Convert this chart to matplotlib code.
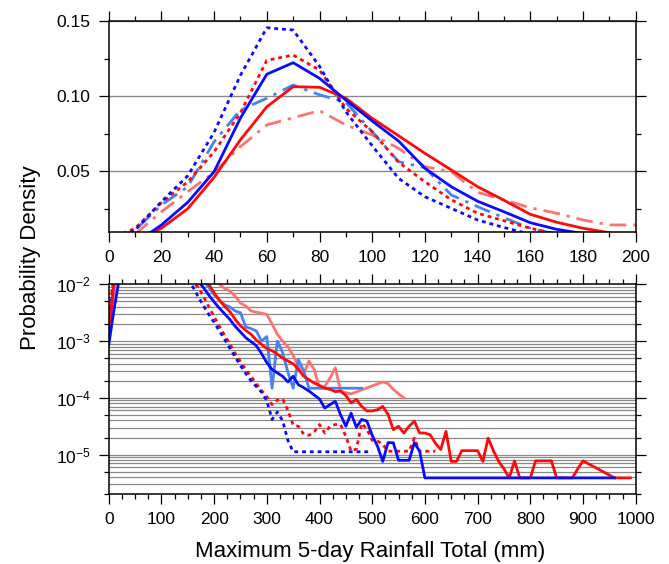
import numpy as np
import matplotlib
matplotlib.use("Agg")
import matplotlib.pyplot as plt
from matplotlib.ticker import MultipleLocator, LogLocator, FixedLocator, NullFormatter, FormatStrFormatter

plt.rcParams['font.family'] = ['Liberation Sans', 'DejaVu Sans']
plt.rcParams['mathtext.default'] = 'regular'

nan = np.nan

# ---- upper panel: pdf on 10 mm bins (linear y) ----
bins_top = np.arange(0, 201, 10)
pdf_blue_solid = [nan, 0.002, 0.0142, 0.0293, 0.0497, 0.0855, 0.1147, 0.1224, 0.112, 0.0975, 0.0835,
                  0.0702, 0.052, 0.0397, 0.030, 0.023, 0.0157, 0.0113, 0.0085, nan, nan]
pdf_blue_dot = [0.003, 0.0107, 0.0297, 0.047, 0.076, 0.114, 0.1457, 0.1442, 0.120, 0.0897, 0.067,
                0.0453, 0.033, 0.0253, 0.0175, 0.0125, 0.008, nan, nan, nan, nan]
pdf_blue_dash = [0.003, 0.0107, 0.0275, 0.0397, 0.0697, 0.0909, 0.0987, 0.1075, 0.101, 0.096, 0.0764,
                 0.0564, 0.0524, 0.0342, 0.0264, 0.019, 0.012, 0.008, nan, nan, nan]
pdf_red_solid = [nan, 0.003, 0.012, 0.025, 0.046, 0.071, 0.093, 0.1064, 0.106, 0.0987, 0.0853,
                 0.0737, 0.062, 0.0509, 0.0397, 0.0307, 0.0213, 0.016, 0.012, 0.009, nan]
pdf_red_dot = [0.004, 0.012, 0.029, 0.043, 0.063, 0.089, 0.124, 0.1275, 0.1175, 0.092, 0.0764,
               0.056, 0.043, 0.031, 0.022, 0.017, 0.012, 0.008, nan, nan, nan]
pdf_red_dash = [nan, 0.008, 0.023, 0.0364, 0.0493, 0.0664, 0.0809, 0.0857, 0.0904, 0.0809, 0.0742,
                0.0653, 0.053, 0.0497, 0.036, 0.0309, 0.0257, 0.022, 0.0175, 0.0142, 0.0142]

# ---- lower panel: tails, log10 of the density ----
tail_x_blue_solid = [0, 10, 20, 30, 160] + list(range(170, 601, 10)) + [960]
tail_blue_solid = [-3.07, -2.45, -1.9, -1.5, -1.8,
                   -1.95, -2.06, -2.19, -2.31, -2.42, -2.52, -2.62, -2.74, -2.84, -2.94,
                   -3.01, -3.08, -3.22, -3.38, -3.50, -3.56, -3.62, -3.72, -3.62, -3.77,
                   -3.82, -3.88, -3.95, -4.02, -4.18, -4.12, -4.06, -4.30, -4.50, -4.27,
                   -4.52, -4.38, -4.41, -4.66, -4.85, -5.12, -4.79, -4.79, -5.10, -5.10,
                   -5.10, -4.79, -4.94, -5.41, -5.41]

tail_x_blue_dot = [0, 10, 20, 30, 140] + list(range(150, 351, 10)) + [500]
tail_blue_dot = [-2.7, -1.9, -1.55, -1.3, -1.75,
                 -1.93, -2.05, -2.22, -2.38, -2.53, -2.67, -2.82, -2.97, -3.13, -3.28,
                 -3.43, -3.57, -3.70, -3.80, -3.90, -4.05, -4.38, -4.25, -4.40, -4.75,
                 -4.95, -4.95]

tail_x_blue_dash = [0, 10, 20, 30, 170] + list(range(180, 391, 10)) + [480]
tail_blue_dash = [-2.8, -2.0, -1.6, -1.4, -1.85,
                  -1.95, -2.05, -2.18, -2.28, -2.36, -2.40, -2.47, -2.50, -2.75, -2.78,
                  -2.82, -3.00, -2.92, -3.83, -3.00, -3.20, -3.55, -3.83, -3.33, -3.52,
                  -3.83, -3.83, -3.83]

tail_x_red_solid = [0, 10, 20, 30, 180] + list(range(190, 901, 10)) + [960, 990]
tail_red_solid = [-2.89, -1.95, -1.6, -1.4, -1.92,
                  -2.0, -2.15, -2.28, -2.39, -2.48, -2.62, -2.73, -2.81, -2.88, -2.98,
                  -3.06, -3.13, -3.17, -3.23, -3.30, -3.35, -3.40, -3.50, -3.62, -3.68,
                  -3.74, -3.78, -3.83, -3.85, -3.89, -3.88, -3.96, -4.09, -4.03, -4.15,
                  -4.23, -4.23, -4.21, -4.15, -4.29, -4.56, -4.50, -4.62, -4.50, -4.41,
                  -4.62, -4.62, -4.65, -4.80, -4.91, -4.59, -5.12, -5.12, -4.93, -4.93,
                  -4.93, -4.93, -5.12, -4.71, -4.93, -5.12, -5.25, -5.41, -5.11, -5.41,
                  -5.41, -5.41, -5.11, -5.11, -5.11, -5.11, -5.41, -5.41, -5.41, -5.41,
                  -5.25, -5.11, -5.41, -5.41]

tail_x_red_dot = [0, 10, 20, 30, 150] + list(range(160, 621, 10))
tail_red_dot = [-2.6, -1.85, -1.55, -1.35, -1.8,
                -1.97, -2.05, -2.22, -2.40, -2.57, -2.74, -2.90, -3.05, -3.22, -3.36,
                -3.50, -3.62, -3.75, -3.87, -3.98, -4.12, -4.04, -4.02, -4.22, -4.48,
                -4.50, -4.64, -4.66, -4.60, -4.47, -4.62, -4.50, -4.47, -4.47, -4.68,
                -4.94, -4.90, -4.45, -4.55, -4.75, -4.76, -4.82, -4.94, -4.94, -4.94,
                -4.94, -4.94, -4.71, -4.94, -4.94, -4.94, -4.94]

tail_x_red_dash = [0, 10, 20, 30, 200] + list(range(210, 461, 10)) + [520, 530, 540, 550, 560]
tail_red_dash = [-2.9, -2.1, -1.75, -1.5, -1.9,
                 -2.0, -2.07, -2.12, -2.21, -2.33, -2.38, -2.47, -2.49, -2.51, -2.53,
                 -2.70, -2.88, -3.00, -3.10, -3.25, -3.45, -3.58, -3.35, -3.50, -3.83,
                 -3.80, -3.65, -3.47, -3.88, -3.91, -3.93, -3.72, -3.75, -3.85, -3.93, -4.00]

blue = '#0a0aff'
lblue = '#4682f0'
red = '#ff0a0a'
lred = '#ff7272'
dot = (0, (1.4, 1.4))
dashdot = (0, (6, 2.5, 1.2, 2.5))

top_series = [
    (pdf_red_dash, lred, dashdot),
    (pdf_blue_dash, lblue, dashdot),
    (pdf_red_dot, red, dot),
    (pdf_blue_dot, blue, dot),
    (pdf_red_solid, red, '-'),
    (pdf_blue_solid, blue, '-'),
]
tail_series = [
    (tail_x_red_dash, tail_red_dash, lred, '-'),
    (tail_x_blue_dash, tail_blue_dash, lblue, '-'),
    (tail_x_red_dot, tail_red_dot, red, dot),
    (tail_x_blue_dot, tail_blue_dot, blue, dot),
    (tail_x_red_solid, tail_red_solid, red, '-'),
    (tail_x_blue_solid, tail_blue_solid, blue, '-'),
]

fig = plt.figure(figsize=(6.69, 5.64), dpi=100)
ax1 = fig.add_axes([0.1625, 0.5892, 0.7877, 0.373])
ax2 = fig.add_axes([0.1625, 0.1236, 0.7877, 0.3723])

for vals, c, ls in top_series:
    ax1.plot(bins_top, vals, color=c, ls=ls, lw=2.0, dash_capstyle='butt')
ax1.set_xlim(0, 200)
ax1.set_ylim(0.0097, 0.15)
ax1.xaxis.set_major_locator(MultipleLocator(20))
ax1.xaxis.set_minor_locator(MultipleLocator(10))
ax1.yaxis.set_major_locator(MultipleLocator(0.05))
ax1.yaxis.set_minor_locator(MultipleLocator(0.025))
ax1.yaxis.set_major_formatter(FormatStrFormatter('%.2f'))
ax1.grid(axis='y', which='major', color='#8a8a8a', lw=1.0, zorder=0)

for xs, lv, c, ls in tail_series:
    ax2.plot(xs, 10.0 ** np.array(lv), color=c, ls=ls, lw=2.0, dash_capstyle='butt')
ax2.set_yscale('log')
ax2.set_xlim(0, 1000)
ax2.set_ylim(2e-6, 1e-2)
ax2.xaxis.set_major_locator(MultipleLocator(100))
ax2.xaxis.set_minor_locator(MultipleLocator(25))
ax2.yaxis.set_major_locator(LogLocator(base=10))
ax2.yaxis.set_minor_locator(FixedLocator([2e-6, 5e-6, 2e-5, 5e-5, 2e-4, 5e-4, 2e-3, 5e-3]))
ax2.yaxis.set_minor_formatter(NullFormatter())
for e in range(-6, -2):
    for k in range(1, 10):
        v = k * 10.0 ** e
        if 2e-6 < v < 1e-2:
            ax2.axhline(v, color='#8a8a8a', lw=0.9, zorder=0)

for ax in (ax1, ax2):
    ax.tick_params(which='both', direction='out', top=True, right=True,
                   labeltop=False, labelright=False, width=0.9, labelsize=12.5, pad=6)
    ax.tick_params(which='major', length=7)
    ax.tick_params(which='minor', length=3.5)
    for s in ax.spines.values():
        s.set_linewidth(1.1)

fig.text(0.045, 0.5426, 'Probability Density', rotation=90, ha='center', va='center', fontsize=16)
fig.text(0.553, 0.023, 'Maximum 5-day Rainfall Total (mm)', ha='center', va='center', fontsize=16)

fig.savefig('out.png', dpi=100)
